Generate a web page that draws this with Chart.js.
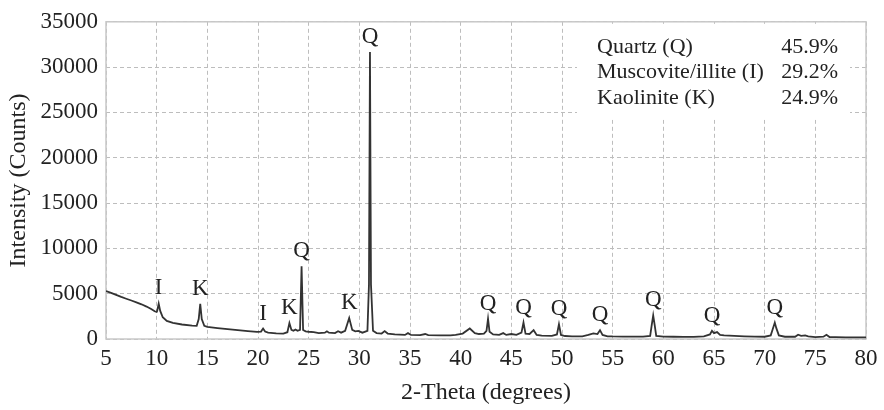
<!DOCTYPE html>
<html>
<head>
<meta charset="utf-8">
<script src="https://cdn.jsdelivr.net/npm/chart.js@4"></script>
<style>
  html, body { margin: 0; padding: 0; background: #fff; }
  #wrap { width: 884px; height: 410px; }
</style>
</head>
<body>
<div id="wrap"><canvas id="xrd" width="884" height="410"></canvas></div>
<script>
// 2-theta (deg) and intensity (counts)
const twoTheta = [
  5.0, 5.5, 6.0, 6.5, 7.0, 7.5, 8.0, 8.5, 9.0, 9.5, 9.8, 10.0, 10.05, 10.2, 10.35, 10.6, 11.0, 11.6, 12.5, 13.5, 13.95, 14.15, 14.3, 14.45, 14.7,
  15.0, 16.0, 17.0, 18.0, 19.0, 19.9, 20.3, 20.5, 20.7, 21.0, 21.8, 22.5, 22.9, 23.1, 23.3, 23.5, 23.7, 23.9, 24.15, 24.3,
  24.45, 24.7, 25.0, 25.5, 26.0, 26.6, 26.8, 27.0, 27.6, 27.9, 28.2, 28.6, 29.0, 29.3, 29.6, 29.9, 30.3, 30.8, 30.95, 31.05,
  31.15, 31.35, 31.7, 32.2, 32.5, 32.8, 33.5, 34.5, 34.8, 35.1, 36.0, 36.5, 36.8, 38.0, 39.0, 39.5, 40.2, 40.9, 41.4, 41.8,
  42.3, 42.55, 42.7, 42.85, 43.2, 43.8, 44.2, 44.5, 45.0, 45.5, 46.0, 46.2, 46.4, 46.8, 47.2, 47.5, 48.0, 49.0, 49.5, 49.7,
  49.9, 50.3, 51.0, 52.0, 52.6, 53.1, 53.5, 53.75, 54.0, 54.5, 55.0, 56.0, 57.0, 58.0, 58.7, 58.85, 59.0, 59.15, 59.3, 60.0,
  61.0, 62.0, 63.0, 64.0, 64.6, 64.8, 65.0, 65.3, 65.6, 66.0, 67.0, 68.0, 69.0, 70.0, 70.6, 70.8, 71.0, 71.15, 71.4, 72.0,
  73.0, 73.3, 73.6, 74.0, 74.3, 75.0, 75.8, 76.1, 76.4, 77.0, 78.0, 79.0, 80.0
];
const counts = [
  5300, 5080, 4860, 4640, 4440, 4250, 4050, 3830, 3580, 3280, 3060, 2980, 3100, 3900, 3100, 2400, 2000, 1770, 1600, 1480, 1450, 2200, 3870, 2200, 1450,
  1330, 1200, 1080, 970, 870, 790, 820, 1150, 820, 700, 610, 600, 750, 1750, 1000, 900, 1050, 900, 1000, 8020,
  1000, 850, 800, 750, 650, 700, 850, 700, 650, 850, 700, 900, 2310, 1000, 850, 900, 700, 900, 6000, 31670,
  6000, 900, 650, 600, 870, 600, 500, 450, 650, 450, 420, 550, 420, 400, 400, 450, 600, 1160, 650, 550,
  600, 900, 2240, 800, 500, 450, 650, 450, 550, 450, 700, 1810, 600, 550, 975, 450, 380, 350, 500, 1630,
  450, 330, 300, 300, 450, 620, 550, 975, 450, 300, 280, 270, 260, 260, 350, 1500, 2600, 1500, 350, 260,
  250, 240, 240, 280, 500, 900, 650, 760, 450, 400, 350, 300, 260, 250, 400, 1100, 1810, 1200, 400, 250,
  250, 470, 350, 400, 300, 200, 250, 470, 220, 200, 190, 180, 180
];

// phase labels over the peaks
const peakX = [10.2, 14.3, 20.5, 23.1, 24.3, 29.0, 31.05, 42.7, 46.2, 49.7, 53.75, 59.0, 64.8, 71.0];
const peakY = [3930, 3870, 1150, 1750, 8020, 2310, 31670, 2240, 1810, 1630, 975, 2600, 900, 1810];
const peakTag = ['I', 'K', 'I', 'K', 'Q', 'K', 'Q', 'Q', 'Q', 'Q', 'Q', 'Q', 'Q', 'Q'];

// phase composition table
const phaseNames = ['Quartz (Q)', 'Muscovite/illite (I)', 'Kaolinite (K)'];
const phasePct = ['45.9%', '29.2%', '24.9%'];

const serif = "'Liberation Serif', 'Times New Roman', serif";
const ink = '#222';

const points = twoTheta.map((x, i) => ({ x: x, y: counts[i] }));

const decorations = {
  id: 'decorations',
  beforeDatasetsDraw(chart) {
    const ctx = chart.ctx;
    const a = chart.chartArea;
    // white patch behind the composition table
    ctx.save();
    ctx.fillStyle = '#fff';
    ctx.fillRect(577, a.top + 2, 273, 96);
    // plot frame
    ctx.strokeStyle = '#c8c8c8';
    ctx.lineWidth = 1.5;
    ctx.strokeRect(a.left, a.top, a.right - a.left, a.bottom - a.top);
    ctx.restore();
  },
  afterDatasetsDraw(chart) {
    const ctx = chart.ctx;
    const xs = chart.scales.x;
    const ys = chart.scales.y;
    ctx.save();
    ctx.fillStyle = ink;
    ctx.font = '23px ' + serif;
    ctx.textAlign = 'center';
    ctx.textBaseline = 'middle';
    peakX.forEach((px, i) => {
      ctx.fillText(peakTag[i], xs.getPixelForValue(px), ys.getPixelForValue(peakY[i]) - 15);
    });
    ctx.font = '22px ' + serif;
    phaseNames.forEach((name, i) => {
      const y = 47 + i * 25.7;
      ctx.textAlign = 'left';
      ctx.fillText(name, 597, y);
      ctx.textAlign = 'right';
      ctx.fillText(phasePct[i], 838, y);
    });
    ctx.restore();
  }
};

new Chart(document.getElementById('xrd'), {
  type: 'line',
  data: {
    datasets: [{
      data: points,
      borderColor: '#333',
      borderWidth: 1.8,
      pointRadius: 0,
      tension: 0,
      fill: false
    }]
  },
  options: {
    responsive: false,
    animation: false,
    events: [],
    layout: { padding: { top: 16, right: 18, left: 0, bottom: 0 } },
    plugins: { legend: { display: false }, tooltip: { enabled: false } },
    scales: {
      x: {
        type: 'linear',
        min: 5,
        max: 80,
        afterFit: (s) => { s.height = 71; },
        ticks: { stepSize: 5, color: ink, padding: 6, font: { family: serif, size: 23 } },
        grid: { color: '#bdbdbd', lineWidth: 1, drawTicks: false },
        border: { display: false, dash: [4, 3] },
        title: { display: true, text: '2-Theta (degrees)', color: ink, font: { family: serif, size: 24 }, padding: { top: 0, bottom: 3 } }
      },
      y: {
        min: 0,
        max: 35000,
        afterFit: (s) => { s.width = 106; },
        ticks: { stepSize: 5000, color: ink, padding: 8, font: { family: serif, size: 23 }, callback: (v) => String(v) },
        grid: { color: '#bdbdbd', lineWidth: 1, drawTicks: false },
        border: { display: false, dash: [4, 3] },
        title: { display: true, text: 'Intensity (Counts)', color: ink, font: { family: serif, size: 24 }, padding: { top: 4, bottom: 0 } }
      }
    }
  },
  plugins: [decorations]
});
</script>
</body>
</html>
